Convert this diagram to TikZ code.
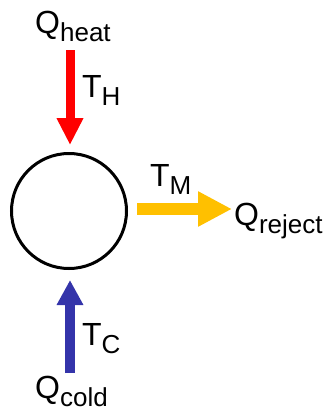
\documentclass[tikz,border=0pt]{standalone}
\usepackage{fontspec}
\setmainfont{Liberation Sans}
\usepackage{xcolor}
\usetikzlibrary{arrows.meta,positioning}

\definecolor{heatred}{RGB}{255,0,0}
\definecolor{rejectgold}{RGB}{255,192,0}
\definecolor{coldblue}{RGB}{52,52,170}

\newcommand{\bigQ}[1]{{\fontsize{32}{36}\selectfont Q}{\fontsize{26}{30}\selectfont\raisebox{-8pt}{#1}}}
\newcommand{\bigT}[1]{{\fontsize{32}{36}\selectfont T}{\fontsize{26}{30}\selectfont\raisebox{-8pt}{#1}}}

\begin{document}
\begin{tikzpicture}[x=1pt, y=-1pt,
        label/.style={inner sep=0pt, anchor=base west},
        body/.style={circle, draw=black, line width=3pt, minimum size=115pt, inner sep=0pt},
        redarrow/.style={line width=9pt, color=heatred, -{Triangle[length=27pt, width=25pt]}},
        goldarrow/.style={line width=12pt, color=rejectgold, -{Triangle[length=34pt, width=33pt]}},
        bluearrow/.style={line width=10pt, color=coldblue, -{Triangle[length=25pt, width=25pt]}}
    ]
    \useasboundingbox (0,0) rectangle (325,416);

    % Body
    \node[body] (cyc) at (69,211) {};

    % Labels
    \node[label] (qheat) at (35,33) {\bigQ{heat}};
    \node[label] (th) at (82,97) {\bigT{H}};
    \node[label] (tm) at (150,186) {\bigT{M}};
    \node[label] (qrej) at (234,225) {\bigQ{reject}};
    \node[label] (tc) at (82,345) {\bigT{C}};
    \node[label] (qcold) at (35,398) {\bigQ{cold}};

    % Arrow ends
    \coordinate (hs) at (70,50);
    \coordinate (he) at (70,145);
    \coordinate (rs) at (137,209);
    \coordinate (re) at (232,209);
    \coordinate (cs) at (70,373);
    \coordinate (ce) at (70,280);

    % Heat flows
    \draw[redarrow] (hs) -- (he);
    \draw[goldarrow] (rs) -- (re);
    \draw[bluearrow] (cs) -- (ce);

\end{tikzpicture}
\end{document}
